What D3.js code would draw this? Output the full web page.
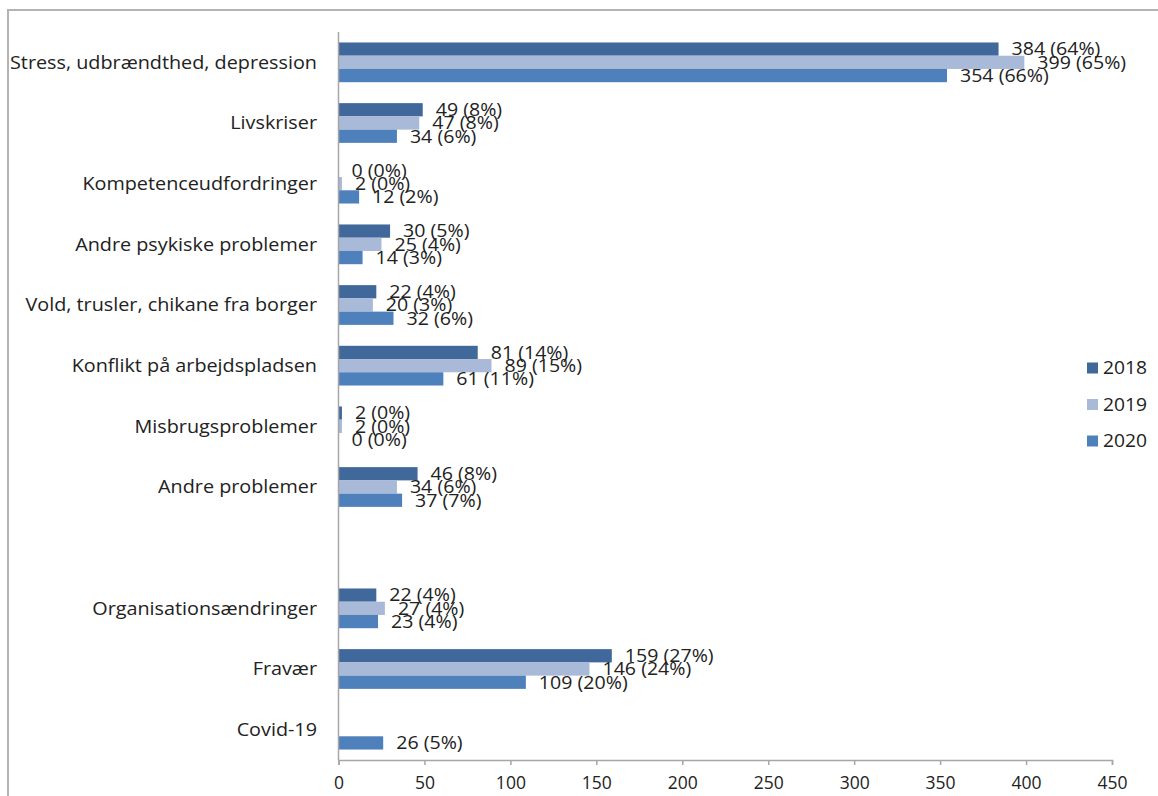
<!DOCTYPE html>
<html>
<head>
<meta charset="utf-8">
<script src="https://cdn.jsdelivr.net/npm/d3@7/dist/d3.min.js"></script>
<style>
  html, body { margin: 0; padding: 0; background: #fff; }
  svg { display: block; }
  text { font-family: "Open Sans", sans-serif; fill: #222; }
</style>
</head>
<body>
<svg id="chart" width="1158" height="796"></svg>
<script>
// Categories, top to bottom ("" is an empty spacer row)
const categories = [
  "Stress, udbrændthed, depression",
  "Livskriser",
  "Kompetenceudfordringer",
  "Andre psykiske problemer",
  "Vold, trusler, chikane fra borger",
  "Konflikt på arbejdspladsen",
  "Misbrugsproblemer",
  "Andre problemer",
  "",
  "Organisationsændringer",
  "Fravær",
  "Covid-19"
];
const years = ["2018", "2019", "2020"];

// Counts per year (null = no bar)
const values2018 = [384, 49, 0, 30, 22, 81, 2, 46, null, 22, 159, null];
const values2019 = [399, 47, 2, 25, 20, 89, 2, 34, null, 27, 146, null];
const values2020 = [354, 34, 12, 14, 32, 61, 0, 37, null, 23, 109, 26];

// Share of the year's total, in percent
const pct2018 = [64, 8, 0, 5, 4, 14, 0, 8, null, 4, 27, null];
const pct2019 = [65, 8, 0, 4, 3, 15, 0, 6, null, 4, 24, null];
const pct2020 = [66, 6, 2, 3, 6, 11, 0, 7, null, 4, 20, 5];

const xTicks = [0, 50, 100, 150, 200, 250, 300, 350, 400, 450];

const seriesValues = [values2018, values2019, values2020];
const seriesPct = [pct2018, pct2019, pct2020];
const colors = ["#41689b", "#a9b9d8", "#4e80bc"];

const svg = d3.select("#chart");
const rowKeys = categories.map((c, i) => "row" + i);

const x = d3.scaleLinear().domain([0, 450]).range([338.5, 1112]);
const y = d3.scaleBand().domain(rowKeys).range([32, 760])
  .paddingInner(0.345).paddingOuter(0.1725);
const ySub = d3.scaleBand().domain(years).range([0, y.bandwidth()]);

// Outer frame (left and top edges)
svg.append("path")
  .attr("d", "M8,796 L8,10 L1158,10")
  .attr("fill", "none").attr("stroke", "#b3b3b3").attr("stroke-width", 2);

// Bars
years.forEach((yr, s) => {
  const items = categories.map((c, i) => ({ i, v: seriesValues[s][i], p: seriesPct[s][i] }))
    .filter(d => d.v !== null);
  svg.append("g").selectAll("rect")
    .data(items)
    .join("rect")
    .attr("x", x(0))
    .attr("y", d => y(rowKeys[d.i]) + ySub(yr))
    .attr("width", d => x(d.v) - x(0))
    .attr("height", ySub.bandwidth())
    .attr("fill", colors[s]);
});

// Value labels
years.forEach((yr, s) => {
  const items = categories.map((c, i) => ({ i, v: seriesValues[s][i], p: seriesPct[s][i] }))
    .filter(d => d.v !== null);
  svg.append("g").selectAll("text")
    .data(items)
    .join("text")
    .attr("x", d => x(d.v) + 13)
    .attr("y", d => y(rowKeys[d.i]) + ySub(yr) + ySub.bandwidth() / 2)
    .attr("dy", "0.36em")
    .attr("font-size", 17.5)
    .attr("transform-origin", d => `${x(d.v) + 13}px 0px`)
    .style("transform", "scaleX(1.12)")
    .text(d => `${d.v} (${d.p}%)`);
});

// Category labels
svg.append("g").selectAll("text")
  .data(categories.map((c, i) => ({ c, i })).filter(d => d.c !== ""))
  .join("text")
  .attr("x", 317)
  .attr("y", d => y(rowKeys[d.i]) + y.bandwidth() / 2)
  .attr("dy", "0.36em")
  .attr("text-anchor", "end")
  .attr("font-size", 18)
  .attr("transform-origin", "317px 0px")
  .style("transform", "scaleX(1.1)")
  .text(d => d.c);

// Vertical axis line
svg.append("line")
  .attr("x1", x(0)).attr("x2", x(0))
  .attr("y1", 32).attr("y2", 760)
  .attr("stroke", "#a6a6a6").attr("stroke-width", 1.5);

// Horizontal axis
const xAxis = svg.append("g")
  .attr("transform", "translate(0,760)")
  .call(d3.axisBottom(x).tickValues(xTicks).tickSize(5).tickSizeOuter(5).tickPadding(12));
xAxis.select(".domain").attr("stroke", "#a6a6a6").attr("stroke-width", 1.5);
xAxis.selectAll(".tick line").attr("stroke", "#a6a6a6").attr("stroke-width", 1.5);
xAxis.selectAll(".tick text")
  .attr("font-size", 17.5)
  .attr("font-family", "Open Sans, sans-serif")
  .attr("fill", "#222");

// Legend
const legend = svg.append("g");
years.forEach((yr, s) => {
  const cy = 368 + s * 36.5;
  legend.append("rect")
    .attr("x", 1087).attr("y", cy - 5.5)
    .attr("width", 11).attr("height", 11)
    .attr("fill", colors[s]);
  legend.append("text")
    .attr("x", 1103).attr("y", cy)
    .attr("dy", "0.36em")
    .attr("font-size", 17.5)
    .attr("transform-origin", "1103px 0px")
    .style("transform", "scaleX(1.1)")
    .text(yr);
});
</script>
</body>
</html>
